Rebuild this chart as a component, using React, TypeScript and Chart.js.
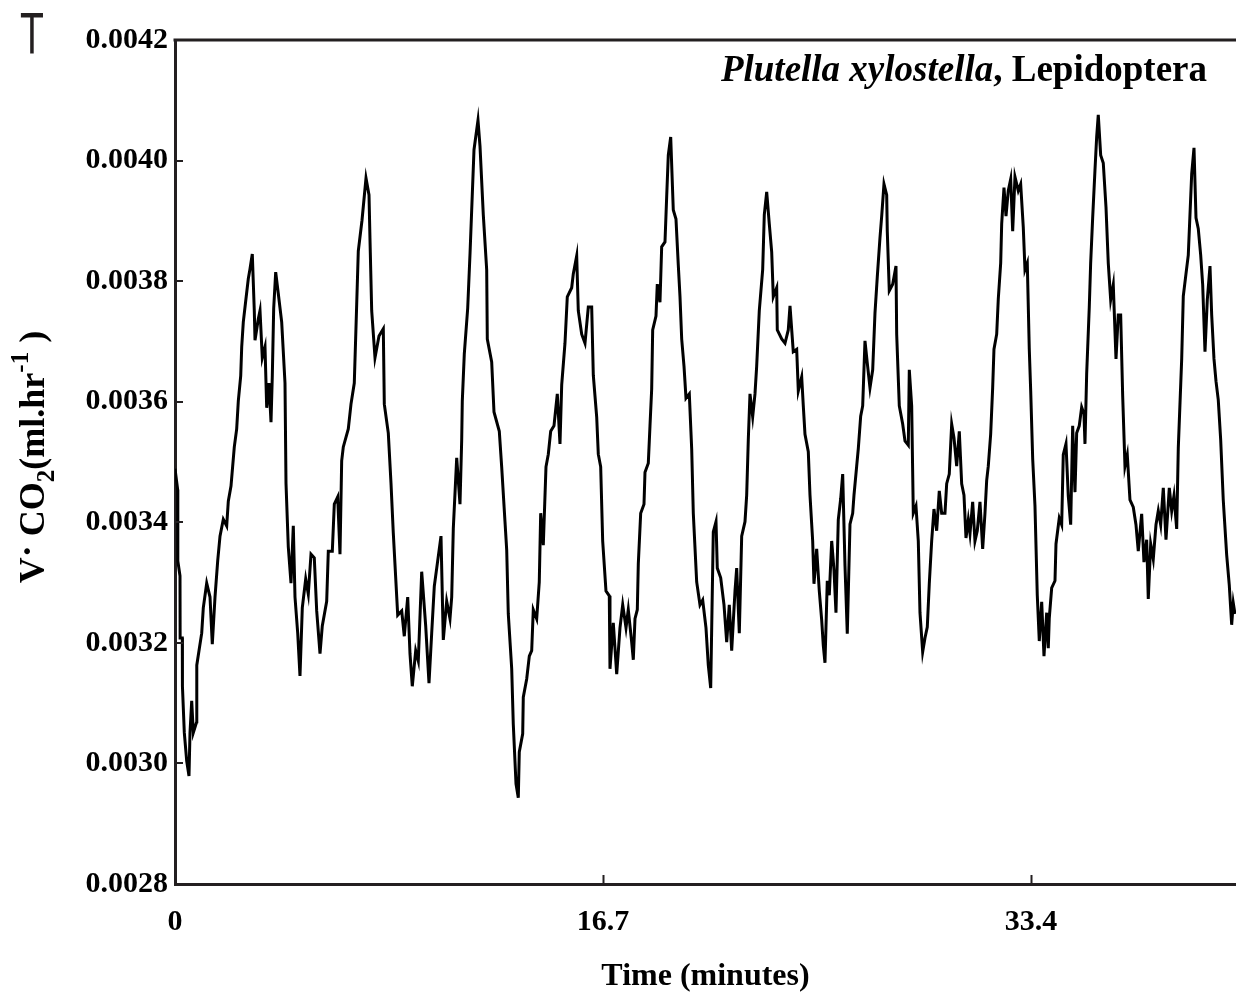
import React, { useEffect, useRef } from "react";
import { Chart, registerables } from "chart.js";

Chart.register(...registerables);

// ---- data (time in minutes, VCO2 in ml/hr) ----
const timeMin = [
  0.0, 0.105, 0.11, 0.195, 0.2, 0.285, 0.29, 0.363, 0.457, 0.546, 0.585, 0.652, 0.714, 0.847, 0.85, 0.936, 1.042, 1.104, 1.237, 1.366,
  1.455, 1.561, 1.666, 1.756, 1.885, 2.017, 2.08, 2.185, 2.314, 2.407, 2.47, 2.564, 2.603, 2.665, 2.759, 2.86, 2.926, 3.016, 3.094, 3.122,
  3.25, 3.317, 3.406, 3.512, 3.578, 3.668, 3.746, 3.797, 3.851, 3.929, 4.031, 4.163, 4.292, 4.331, 4.421, 4.526, 4.616, 4.682, 4.788, 4.877,
  4.967, 5.1, 5.201, 5.307, 5.435, 5.529, 5.658, 5.747, 5.919, 5.982, 6.138, 6.216, 6.348, 6.438, 6.504, 6.567, 6.762, 6.867, 6.996, 7.09,
  7.152, 7.297, 7.453, 7.57, 7.609, 7.675, 7.804, 7.96, 8.128, 8.167, 8.323, 8.428, 8.518, 8.69, 8.846, 8.947, 9.08, 9.169, 9.259, 9.392,
  9.493, 9.626, 9.782, 9.911, 10.016, 10.118, 10.25, 10.379, 10.469, 10.601, 10.73, 10.797, 10.859, 10.992, 11.12, 11.187, 11.21, 11.288, 11.421, 11.511,
  11.667, 11.823, 11.901, 12.03, 12.162, 12.186, 12.357, 12.447, 12.654, 12.747, 12.876, 12.943, 13.005, 13.138, 13.2, 13.306, 13.395, 13.434, 13.567, 13.59,
  13.723, 13.825, 13.918, 13.98, 14.113, 14.214, 14.269, 14.371, 14.476, 14.566, 14.659, 14.788, 14.917, 15.022, 15.089, 15.217, 15.307, 15.479, 15.541, 15.674,
  15.736, 15.869, 15.998, 16.127, 16.259, 16.322, 16.454, 16.517, 16.61, 16.688, 16.817, 16.946, 16.973, 17.102, 17.235, 17.363, 17.469, 17.598, 17.687, 17.82,
  17.883, 17.949, 18.039, 18.078, 18.171, 18.3, 18.339, 18.468, 18.534, 18.6, 18.639, 18.768, 18.819, 18.924, 18.99, 19.119, 19.186, 19.248, 19.342, 19.443,
  19.548, 19.638, 19.705, 19.771, 19.861, 19.939, 20.068, 20.161, 20.224, 20.356, 20.485, 20.59, 20.719, 20.809, 20.903, 20.942, 21.004, 21.11, 21.16, 21.293,
  21.422, 21.527, 21.628, 21.722, 21.851, 21.917, 22.019, 22.112, 22.241, 22.307, 22.37, 22.436, 22.541, 22.631, 22.697, 22.799, 22.931, 22.994, 23.088, 23.189,
  23.283, 23.345, 23.478, 23.501, 23.673, 23.802, 23.93, 23.997, 24.125, 24.258, 24.321, 24.453, 24.516, 24.582, 24.711, 24.777, 24.882, 24.933, 25.038, 25.14,
  25.233, 25.296, 25.362, 25.452, 25.53, 25.624, 25.713, 25.791, 25.881, 25.975, 26.053, 26.143, 26.232, 26.338, 26.443, 26.494, 26.599, 26.662, 26.755, 26.833,
  26.923, 27.013, 27.118, 27.224, 27.313, 27.403, 27.508, 27.575, 27.664, 27.77, 27.793, 27.871, 28.004, 28.133, 28.16, 28.262, 28.394, 28.484, 28.613, 28.652,
  28.745, 28.808, 28.913, 29.003, 29.069, 29.174, 29.264, 29.354, 29.432, 29.525, 29.615, 29.72, 29.822, 29.915, 30.044, 30.111, 30.212, 30.306, 30.396, 30.501,
  30.603, 30.696, 30.786, 30.864, 30.954, 31.02, 31.125, 31.215, 31.305, 31.41, 31.515, 31.605, 31.671, 31.734, 31.827, 31.905, 31.956, 32.062, 32.124, 32.218,
  32.257, 32.347, 32.425, 32.514, 32.608, 32.686, 32.776, 32.904, 32.998, 33.099, 33.166, 33.256, 33.334, 33.389, 33.467, 33.556, 33.646, 33.724, 33.818, 33.908,
  34.013, 34.075, 34.114, 34.208, 34.337, 34.376, 34.504, 34.598, 34.66, 34.766, 34.855, 34.949, 35.027, 35.117, 35.183, 35.284, 35.378, 35.468, 35.507, 35.573,
  35.675, 35.729, 35.807, 35.897, 35.963, 36.026, 36.12, 36.221, 36.327, 36.416, 36.51, 36.611, 36.717, 36.806, 36.9, 36.978, 37.068, 37.158, 37.263, 37.392,
  37.497, 37.587, 37.719, 37.809, 37.915, 37.977, 38.071, 38.172, 38.278, 38.368, 38.461, 38.563, 38.668, 38.797, 38.891, 38.98, 39.086, 39.148, 39.281, 39.343,
  39.448, 39.538, 39.671, 39.761, 39.839, 39.928, 40.022, 40.1, 40.19, 40.28, 40.385, 40.451, 40.541, 40.619, 40.708, 40.802, 40.903, 41.036, 41.137, 41.231,
  41.294, 41.36,
];

const co2 = [
  0.003489, 0.003454, 0.003336, 0.003311, 0.003208, 0.003208, 0.003128, 0.003051, 0.003004, 0.002979, 0.003051, 0.003104, 0.003051, 0.003069, 0.003163, 0.003187, 0.003216, 0.003258, 0.003299, 0.003276,
  0.003198, 0.003276, 0.003336, 0.003377, 0.003405, 0.003394, 0.003435, 0.00346, 0.003525, 0.003555, 0.003601, 0.003643, 0.003691, 0.003732, 0.003767, 0.003804, 0.00382, 0.003845, 0.003751, 0.003702,
  0.003737, 0.003751, 0.003673, 0.003691, 0.00359, 0.003631, 0.003566, 0.003643, 0.003755, 0.003815, 0.003779, 0.003732, 0.003631, 0.003465, 0.003359, 0.003299, 0.003394, 0.003276, 0.003216, 0.003145,
  0.003258, 0.003306, 0.003281, 0.003347, 0.003341, 0.003253, 0.003182, 0.003228, 0.003269, 0.003352, 0.003352, 0.00343, 0.003442, 0.003347, 0.003502, 0.003525, 0.003555, 0.003596, 0.003631, 0.003762,
  0.00385, 0.003901, 0.003971, 0.003943, 0.003868, 0.003751, 0.003673, 0.003709, 0.003721, 0.003596, 0.003548, 0.003465, 0.003382, 0.003246, 0.003253, 0.003211, 0.003276, 0.003182, 0.003128, 0.003187,
  0.00317, 0.003318, 0.003228, 0.003133, 0.003216, 0.003294, 0.003336, 0.003377, 0.003205, 0.003269, 0.00324, 0.003276, 0.003389, 0.003507, 0.00343, 0.003537, 0.003601, 0.003679, 0.003755, 0.003845,
  0.004018, 0.004067, 0.004024, 0.00391, 0.003819, 0.003704, 0.003666, 0.003583, 0.003551, 0.003492, 0.003401, 0.003354, 0.003248, 0.003157, 0.003065, 0.002966, 0.002943, 0.003019, 0.003049, 0.00311,
  0.00314, 0.003178, 0.003187, 0.003255, 0.00324, 0.003301, 0.003415, 0.003362, 0.003492, 0.003513, 0.003551, 0.00356, 0.003613, 0.00353, 0.003628, 0.003697, 0.003774, 0.003789, 0.003812, 0.003842,
  0.003751, 0.003712, 0.003697, 0.003757, 0.003757, 0.003644, 0.003575, 0.003513, 0.003492, 0.003369, 0.003286, 0.003278, 0.003157, 0.003233, 0.003148, 0.003225, 0.003263, 0.003225, 0.003255, 0.003201,
  0.003172, 0.00324, 0.003255, 0.003331, 0.003415, 0.00343, 0.003483, 0.003498, 0.00356, 0.003621, 0.003719, 0.003742, 0.003795, 0.003765, 0.003857, 0.003865, 0.003941, 0.004009, 0.004039, 0.003918,
  0.003903, 0.003827, 0.003774, 0.003704, 0.003659, 0.003606, 0.003613, 0.003522, 0.003415, 0.003301, 0.003263, 0.003271, 0.003225, 0.003163, 0.003125, 0.003225, 0.003384, 0.003401, 0.003324, 0.003308,
  0.003263, 0.003201, 0.003263, 0.003187, 0.003286, 0.003324, 0.003216, 0.003377, 0.003401, 0.003445, 0.003537, 0.003613, 0.003575, 0.003613, 0.003659, 0.003751, 0.003819, 0.00391, 0.003948, 0.003895,
  0.003848, 0.003774, 0.003789, 0.003719, 0.003704, 0.003697, 0.003719, 0.003759, 0.003683, 0.003687, 0.003618, 0.003641, 0.003593, 0.003546, 0.003517, 0.003445, 0.003369, 0.003298, 0.003356, 0.003286,
  0.003238, 0.003196, 0.003167, 0.003303, 0.003279, 0.003369, 0.003321, 0.00325, 0.003404, 0.003439, 0.00348, 0.003328, 0.003215, 0.003397, 0.003415, 0.003445, 0.003493, 0.003522, 0.003576, 0.003593,
  0.003701, 0.003664, 0.003623, 0.003653, 0.003747, 0.003807, 0.003872, 0.003908, 0.003961, 0.003943, 0.003883, 0.003784, 0.003795, 0.003825, 0.003712, 0.003593, 0.003563, 0.003535, 0.003528, 0.003653,
  0.003593, 0.003415, 0.003427, 0.003369, 0.00325, 0.003185, 0.003208, 0.003226, 0.003298, 0.003369, 0.003422, 0.003386, 0.003452, 0.003415, 0.003415, 0.003464, 0.00348, 0.003563, 0.00354, 0.003493,
  0.003551, 0.003464, 0.003445, 0.003374, 0.003404, 0.003381, 0.003434, 0.003369, 0.003386, 0.003434, 0.003356, 0.003415, 0.003469, 0.003493, 0.003546, 0.003623, 0.003687, 0.003712, 0.00377, 0.00383,
  0.003895, 0.003955, 0.003908, 0.00395, 0.003969, 0.003883, 0.003973, 0.00395, 0.003961, 0.00389, 0.003819, 0.00383, 0.003687, 0.003618, 0.003505, 0.003427, 0.003279, 0.003203, 0.003268, 0.003178,
  0.00325, 0.003191, 0.003241, 0.003291, 0.003303, 0.003364, 0.003407, 0.003396, 0.003512, 0.00353, 0.003444, 0.003396, 0.00356, 0.00345, 0.003548, 0.00356, 0.003591, 0.00358, 0.00353, 0.003646,
  0.003757, 0.00383, 0.003905, 0.003984, 0.004039, 0.004076, 0.004009, 0.003996, 0.003923, 0.00383, 0.003769, 0.003794, 0.003671, 0.003744, 0.003744, 0.00361, 0.003493, 0.003512, 0.003437, 0.003425,
  0.003396, 0.003352, 0.003414, 0.003334, 0.003371, 0.003273, 0.003364, 0.003339, 0.003396, 0.003419, 0.003396, 0.003457, 0.003371, 0.003457, 0.003419, 0.003444, 0.003389, 0.003523, 0.003671, 0.003775,
  0.003812, 0.003843, 0.003978, 0.004021, 0.003905, 0.003887, 0.003843, 0.003794, 0.003683, 0.003769, 0.003825, 0.003744, 0.003671, 0.003634, 0.003603, 0.003537, 0.003437, 0.003346, 0.003296, 0.00323,
  0.003266, 0.003248,
];

const xTicks = [0, 16.7, 33.4];
const xTickLabels = ["0", "16.7", "33.4"];
const yTicks = [0.0028, 0.003, 0.0032, 0.0034, 0.0036, 0.0038, 0.004, 0.0042];
const yTickLabels = ["0.0028", "0.0030", "0.0032", "0.0034", "0.0036", "0.0038", "0.0040", "0.0042"];
const xRange = [0, 41.4];
const speciesName = "Plutella xylostella";
const orderName = ", Lepidoptera";
const xAxisTitle = "Time (minutes)";
const panelLetter = "T";

const SERIF = "'Liberation Serif', 'Times New Roman', serif";
const AXIS_COLOR = "#231f20";

const overlayPlugin = {
  id: "overlay",
  afterDraw(chart: any) {
    const { ctx, chartArea, scales } = chart;
    const xs = scales.x;
    const ys = scales.y;
    ctx.save();

    // top frame line
    ctx.strokeStyle = AXIS_COLOR;
    ctx.lineWidth = 3;
    ctx.beginPath();
    ctx.moveTo(chartArea.left - 1.5, chartArea.top);
    ctx.lineTo(chartArea.right + 2, chartArea.top);
    ctx.stroke();

    // inward tick marks
    ctx.lineWidth = 2;
    yTicks.forEach((v) => {
      const y = Math.round(ys.getPixelForValue(v));
      ctx.beginPath();
      ctx.moveTo(chartArea.left, y);
      ctx.lineTo(chartArea.left + 8, y);
      ctx.stroke();
    });
    xTicks.forEach((v) => {
      const x = Math.round(xs.getPixelForValue(v)) + 0.5;
      ctx.beginPath();
      ctx.moveTo(x, chartArea.bottom);
      ctx.lineTo(x, chartArea.bottom - 9);
      ctx.stroke();
    });

    // species label (top right)
    ctx.fillStyle = "#000";
    ctx.textBaseline = "alphabetic";
    const rightX = chartArea.right - 29;
    const baseY = chartArea.top + 41;
    ctx.font = `bold 37px ${SERIF}`;
    const wOrder = ctx.measureText(orderName).width;
    ctx.textAlign = "left";
    ctx.fillText(orderName, rightX - wOrder, baseY);
    ctx.font = `italic bold 37px ${SERIF}`;
    ctx.textAlign = "right";
    ctx.fillText(speciesName, rightX - wOrder, baseY);

    // y-axis title with sub/superscripts
    const segs = [
      { t: "V", size: 36, dy: 0 },
      { t: "\u00B7", size: 36, dy: -5 },
      { t: " CO", size: 36, dy: 0 },
      { t: "2", size: 25, dy: 10 },
      { t: "(ml.hr", size: 36, dy: 0 },
      { t: "-1", size: 25, dy: -16 },
      { t: " )", size: 36, dy: 0 },
    ];
    let total = 0;
    const widths = segs.map((s) => {
      ctx.font = `bold ${s.size}px ${SERIF}`;
      const w = ctx.measureText(s.t).width;
      total += w;
      return w;
    });
    const cy = (chartArea.top + chartArea.bottom) / 2 - 5;
    ctx.translate(44, cy);
    ctx.rotate(-Math.PI / 2);
    ctx.textAlign = "left";
    let cx = -total / 2;
    segs.forEach((s, i) => {
      ctx.font = `bold ${s.size}px ${SERIF}`;
      ctx.fillText(s.t, cx, s.dy);
      cx += widths[i];
    });
    ctx.restore();

    // panel letter
    ctx.save();
    ctx.fillStyle = AXIS_COLOR;
    ctx.translate(21, 53);
    ctx.scale(0.64, 1);
    ctx.font = "56px 'DejaVu Sans', sans-serif";
    ctx.textAlign = "left";
    ctx.textBaseline = "alphabetic";
    ctx.fillText(panelLetter, 0, 0);
    ctx.restore();
  },
};

export default function App() {
  const canvasRef = useRef<HTMLCanvasElement | null>(null);

  useEffect(() => {
    if (!canvasRef.current) return;
    const points = timeMin.map((t, i) => ({ x: t, y: co2[i] }));
    const chart = new Chart(canvasRef.current, {
      type: "line",
      data: {
        datasets: [
          {
            data: points,
            borderColor: "#000",
            borderWidth: 3,
            pointRadius: 0,
            tension: 0,
            fill: false,
          },
        ],
      },
      options: {
        animation: false,
        responsive: false,
        devicePixelRatio: 1,
        parsing: false,
        normalized: true,
        layout: { padding: { top: 40, left: 0, right: 0, bottom: 0 } },
        plugins: {
          legend: { display: false },
          tooltip: { enabled: false },
          title: { display: false },
        },
        scales: {
          x: {
            type: "linear",
            min: xRange[0],
            max: xRange[1],
            afterBuildTicks: (s: any) => {
              s.ticks = xTicks.map((v) => ({ value: v }));
            },
            afterFit: (s: any) => {
              s.height = 113;
            },
            grid: { display: false, drawTicks: false },
            border: { display: true, color: AXIS_COLOR, width: 3 },
            ticks: {
              autoSkip: false,
              maxRotation: 0,
              padding: 20,
              color: "#000",
              font: { family: SERIF, size: 30, weight: "bold" },
              callback: (_v: any, i: number) => xTickLabels[i],
            },
            title: {
              display: true,
              text: xAxisTitle,
              color: "#000",
              font: { family: SERIF, size: 32, weight: "bold" },
              padding: { top: 0, bottom: 1 },
            },
          },
          y: {
            type: "linear",
            min: 0.0028,
            max: 0.0042,
            afterBuildTicks: (s: any) => {
              s.ticks = yTicks.map((v) => ({ value: v }));
            },
            afterFit: (s: any) => {
              s.width = 175;
            },
            grid: { display: false, drawTicks: false },
            border: { display: true, color: AXIS_COLOR, width: 3 },
            ticks: {
              padding: 7,
              color: "#000",
              font: { family: SERIF, size: 30, weight: "bold" },
              callback: (_v: any, i: number) => yTickLabels[i],
            },
          },
        },
      },
      plugins: [overlayPlugin],
    } as any);
    return () => chart.destroy();
  }, []);

  return (
    <div style={{ position: "fixed", left: 0, top: 0, width: 1236, height: 997, background: "#fff" }}>
      <canvas ref={canvasRef} width={1236} height={997} style={{ width: 1236, height: 997, display: "block" }} />
    </div>
  );
}
